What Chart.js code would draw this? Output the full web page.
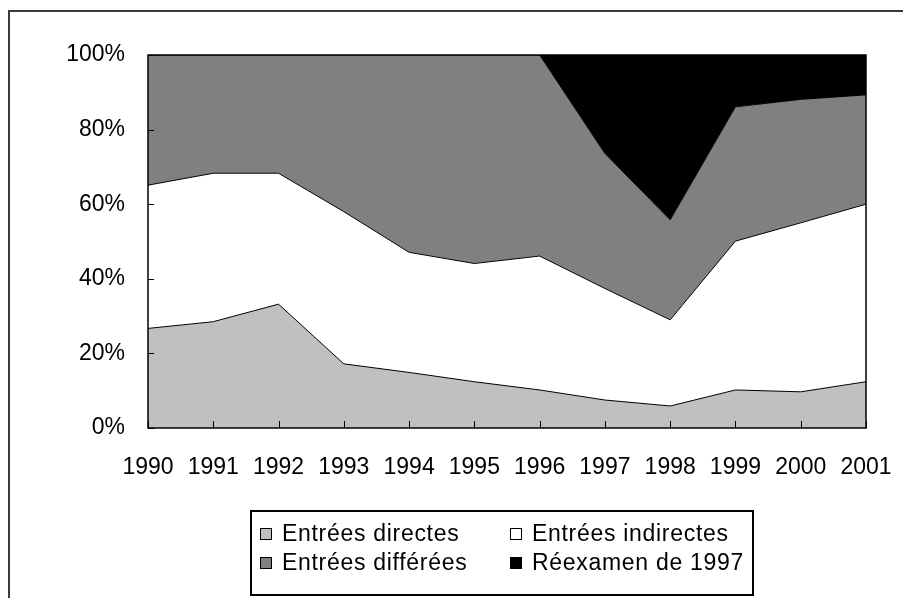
<!DOCTYPE html>
<html lang="fr">
<head>
  <meta charset="UTF-8">
  <title>Entrées 1990-2001</title>
  <script src="https://cdn.jsdelivr.net/npm/chart.js"></script>
  <style>
    body { margin: 0; background: #fff; font-family: "Liberation Sans", Arial, sans-serif; }
    #cadre { position: absolute; left: 8px; top: 10px; width: 1000px; height: 1000px; border: 2px solid #3a3a3a; }
    #zone { position: absolute; left: 0; top: 0; width: 903px; height: 598px; }
    #legende { position: absolute; left: 250px; top: 510px; width: 500px; height: 82px; border: 2px solid #000; }
    .item { position: absolute; font-size: 23px; color: #000; line-height: 23px; white-space: nowrap; letter-spacing: 0.7px; }
    .item span.carre { display: inline-block; width: 10px; height: 10px; border: 1px solid #000; margin-right: 10px; vertical-align: 1px; }
  </style>
</head>
<body>
  <div id="cadre"></div>
  <div id="zone"><canvas id="graphique" width="903" height="598"></canvas></div>
  <div id="legende"></div>

  <script>
    const annees = ['1990', '1991', '1992', '1993', '1994', '1995', '1996', '1997', '1998', '1999', '2000', '2001'];
    const directes = [26.7, 28.5, 33.2, 17.2, 14.9, 12.4, 10.2, 7.5, 5.9, 10.2, 9.7, 12.4];
    const indirectes = [38.4, 39.8, 35.1, 40.8, 32.2, 31.7, 35.9, 29.9, 23.1, 39.9, 45.3, 47.6];
    const differees = [34.9, 31.7, 31.7, 42.0, 52.9, 55.9, 53.9, 36.2, 26.8, 36.0, 33.1, 29.3];
    const reexamen = [0, 0, 0, 0, 0, 0, 0, 26.4, 44.2, 13.9, 11.9, 10.7];

    const series = [
      { label: 'Entrées directes', data: directes, couleur: '#c0c0c0' },
      { label: 'Entrées indirectes', data: indirectes, couleur: '#ffffff' },
      { label: 'Entrées différées', data: differees, couleur: '#808080' },
      { label: 'Réexamen de 1997', data: reexamen, couleur: '#000000' }
    ];

    // cadre du graphique + graduations vers l'intérieur
    const cadrePlugin = {
      id: 'cadre',
      afterDraw(chart) {
        const c = chart.ctx;
        const a = chart.chartArea;
        c.save();
        c.strokeStyle = '#000';
        c.lineWidth = 1.5;
        c.strokeRect(a.left, a.top, a.right - a.left, a.bottom - a.top);
        c.lineWidth = 1;
        c.beginPath();
        chart.scales.y.ticks.forEach((t, i) => {
          const y = Math.round(chart.scales.y.getPixelForTick(i)) + 0.5;
          c.moveTo(a.left, y);
          c.lineTo(a.left + 6, y);
        });
        chart.scales.x.ticks.forEach((t, i) => {
          const x = Math.round(chart.scales.x.getPixelForTick(i)) + 0.5;
          c.moveTo(x, a.bottom);
          c.lineTo(x, a.bottom - 7);
        });
        c.stroke();
        c.restore();
      }
    };

    const ctx = document.getElementById('graphique').getContext('2d');
    const chart = new Chart(ctx, {
      type: 'line',
      data: {
        labels: annees,
        datasets: series.map((s, i) => ({
          label: s.label,
          data: s.data,
          backgroundColor: s.couleur,
          borderColor: '#000',
          borderWidth: 1,
          fill: i === 0 ? 'origin' : '-1',
          pointRadius: 0,
          tension: 0
        }))
      },
      options: {
        responsive: false,
        animation: false,
        layout: { padding: { top: 55, right: 37, left: 0, bottom: 0 } },
        plugins: { legend: { display: false }, tooltip: { enabled: false } },
        scales: {
          x: {
            grid: { display: false, drawTicks: false },
            border: { display: false },
            ticks: { color: '#000', font: { family: 'Liberation Sans', size: 23 }, padding: 26, maxRotation: 0, autoSkip: false },
            afterFit(scale) {
              scale.height = 170;
              scale.paddingLeft = 0;
              scale.paddingRight = 0;
            }
          },
          y: {
            stacked: true,
            min: 0,
            max: 100,
            grid: { display: false, drawTicks: false },
            border: { display: false },
            ticks: { stepSize: 20, color: '#000', font: { family: 'Liberation Sans', size: 23 }, padding: 23, callback: v => v + '%' },
            afterFit(scale) { scale.width = 148; }
          }
        }
      },
      plugins: [cadrePlugin]
    });

    // légende sur deux colonnes
    const legende = document.getElementById('legende');
    const positions = [[8, 10], [258, 10], [8, 39], [258, 39]];
    series.forEach((s, i) => {
      const d = document.createElement('div');
      d.className = 'item';
      d.style.left = positions[i][0] + 'px';
      d.style.top = positions[i][1] + 'px';
      d.innerHTML = '<span class="carre" style="background:' + s.couleur + '"></span>' + s.label;
      legende.appendChild(d);
    });
  </script>
</body>
</html>
